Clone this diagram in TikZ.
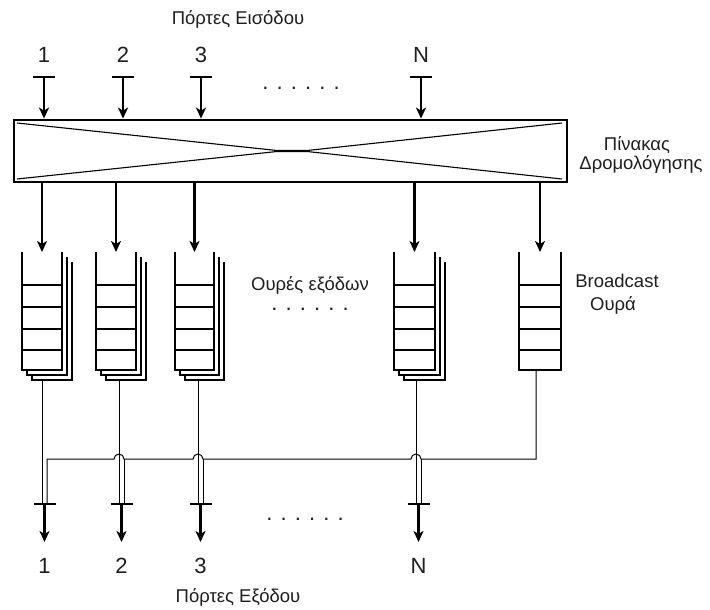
\documentclass[tikz,border=0pt]{standalone}
\usepackage{fontspec}
\setmainfont{Liberation Sans}
\usetikzlibrary{arrows.meta,calc}
\newcommand\qsingle[3]{%
  \fill[white] (#1,252) rectangle (#2,370);
  \draw[thk,line join=miter] (#1,252) -- (#1,370) -- (#2,370) -- (#2,252);
  \foreach \yy in {285,307,329,350} \draw[thk] (#1,\yy) -- (#2,\yy);
  \coordinate (#3top) at ({(#1+#2)/2},252);}
\newcommand\qstack[3]{%
  \fill[white] (#1+10,262) rectangle (#2+10,380);
  \draw[qline,line join=miter] (#1+10,262) -- (#1+10,380) -- (#2+10,380) -- (#2+10,262);
  \fill[white] (#1+5,257) rectangle (#2+5,375);
  \draw[qline,line join=miter] (#1+5,257) -- (#1+5,375) -- (#2+5,375) -- (#2+5,257);
  \qsingle{#1}{#2}{#3}}
\begin{document}
\begin{tikzpicture}[x=1pt,y=-1pt,
  thk/.style={line width=2.5pt},
  qline/.style={line width=2.3pt},
  thn/.style={line width=1pt},
  arr/.style={line width=2.2pt,-{Stealth[length=11pt,width=10pt,inset=3pt]}},
  lbl/.style={font=\fontsize{18.5}{20}\selectfont,text=black!88,inner sep=0pt},
  num/.style={font=\fontsize{22}{24}\selectfont,text=black!88,inner sep=0pt},
]
\useasboundingbox (0,0) rectangle (710,610);
\fill[white] (0,0) rectangle (710,610);

% titles
\node[lbl,anchor=base] (tin) at (238,25) {Πόρτες Εισόδου};
\node[lbl,anchor=base] (tout) at (238,602) {Πόρτες Εξόδου};

% switch box
\node[draw,line width=2.8pt,minimum width=553pt,minimum height=62pt,inner sep=0pt] (sw) at (290.5,151) {};
\draw[line width=1.1pt] (17,123) -- (277,150.5) -- (307,150.5) -- (562,123);
\draw[line width=1.1pt] (17,179) -- (277,151.5) -- (307,151.5) -- (562,179);
\node[lbl,anchor=base] (swl1) at (637,150) {Πίνακας};
\node[lbl,anchor=base] (swl2) at (641,169) {Δρομολόγησης};

% input ports
\foreach \nm/\xx/\tx in {1/44/1,2/123/2,3/201/3,n/421/N}{
  \node[num,anchor=base] (in\nm) at (\xx,63) {\tx};
  \coordinate (ib\nm) at (\xx,77);
  \draw[thk] ($(ib\nm)+(-11,0)$) -- ($(ib\nm)+(11,0)$);
  \draw[arr] (ib\nm) -- (ib\nm |- sw.north);
}
\node[num,anchor=base] (dtop) at (301,90) {. . . . . .};

% queues
\qstack{22}{62}{q1}
\qstack{96}{136}{q2}
\qstack{175}{214}{q3}
\qstack{394}{435}{qn}
\qsingle{519}{561}{qb}
\foreach \q in {q1,q2,q3,qn,qb}{
  \draw[arr] (\q top |- sw.south) -- (\q top);
}
\node[lbl,anchor=base] (ql) at (310,290) {Ουρές εξόδων};
\node[num,anchor=base] (dmid) at (310,310) {. . . . . .};
\node[lbl,anchor=base] (bl1) at (617,287) {Broadcast};
\node[lbl,anchor=base] (bl2) at (613,310) {Ουρά};

% output lines
\foreach \nm/\qx in {1/42,2/119,3/198,n/416}{
  \coordinate (ob\nm) at (\qx+2.5,504);
  \draw[thn] (\qx,380) -- (\qx,504);
}
\draw[thn] (536,371) -- (536,459) -- (421,459)
  arc[start angle=0,end angle=180,radius=5pt] -- (203,459)
  arc[start angle=0,end angle=180,radius=5pt] -- (124,459)
  arc[start angle=0,end angle=180,radius=5pt] -- (47,459) -- (47,504);
\foreach \bx in {124,203,421}{
  \draw[thn] (\bx,459) -- (\bx,504);
}

% output ports
\foreach \nm/\tx in {1/1,2/2,3/3,n/N}{
  \draw[thk] ($(ob\nm)+(-11,0)$) -- ($(ob\nm)+(11,0)$);
  \coordinate (ot\nm) at ($(ob\nm)+(0,38)$);
  \draw[arr] (ob\nm) -- (ot\nm);
  \node[num,anchor=base] (out\nm) at ($(ob\nm)+(0,69)$) {\tx};
}
\node[num,anchor=base] (dbot) at (305,520) {. . . . . .};
\end{tikzpicture}
\end{document}
